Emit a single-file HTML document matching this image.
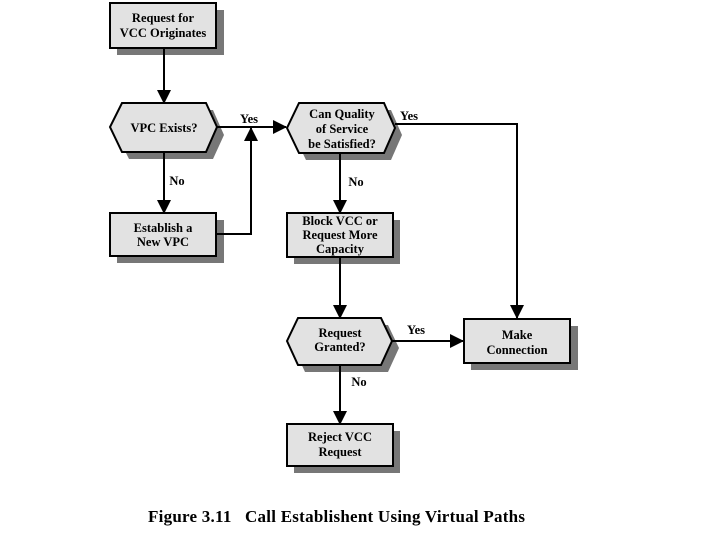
<!DOCTYPE html>
<html><head><style>body{margin:0;background:#fff}</style></head><body>
<svg width="720" height="540" xmlns="http://www.w3.org/2000/svg" font-family="Liberation Serif, serif" font-weight="bold">
<defs><marker id="b" markerWidth="14" markerHeight="14" refX="13" refY="7" orient="auto" markerUnits="userSpaceOnUse"><path d="M0,0 L14,7 L0,14z" fill="#000"/></marker></defs>
<g fill="#777">
<rect x="117" y="10" width="107" height="45"/>
<polygon points="129,110 213,110 224,135 213,159 129,159 117,135"/>
<rect x="117" y="220" width="107" height="43"/>
<polygon points="306,110 391,110 402,135 391,160 306,160 294,135"/>
<rect x="294" y="220" width="106" height="44"/>
<polygon points="305,325 388,325 399,348 388,372 305,372 294,348"/>
<rect x="471" y="326" width="107" height="44"/>
<rect x="294" y="431" width="106" height="42"/>
</g>
<g fill="#e2e2e2" stroke="#000" stroke-width="2">
<rect x="110" y="3" width="106" height="45"/>
<polygon points="122,103 206,103 217,127 206,152 122,152 110,127"/>
<rect x="110" y="213" width="106" height="43"/>
<polygon points="299,103 384,103 395,128 384,153 299,153 287,128"/>
<rect x="287" y="213" width="106" height="44"/>
<polygon points="298,318 381,318 392,341 381,365 298,365 287,341"/>
<rect x="464" y="319" width="106" height="44"/>
<rect x="287" y="424" width="106" height="42"/>
</g>
<g stroke="#000" stroke-width="2" fill="none">
<line x1="164" y1="48" x2="164" y2="103" marker-end="url(#b)"/>
<line x1="217" y1="127" x2="286" y2="127" marker-end="url(#b)"/>
<polyline points="216,234 251,234 251,128" marker-end="url(#b)"/>
<line x1="164" y1="152" x2="164" y2="213" marker-end="url(#b)"/>
<polyline points="395,124 517,124 517,318" marker-end="url(#b)"/>
<line x1="340" y1="153" x2="340" y2="213" marker-end="url(#b)"/>
<line x1="340" y1="257" x2="340" y2="318" marker-end="url(#b)"/>
<line x1="392" y1="341" x2="463" y2="341" marker-end="url(#b)"/>
<line x1="340" y1="365" x2="340" y2="424" marker-end="url(#b)"/>
</g>
<g font-size="12.5" text-anchor="middle" fill="#000">
<text x="163" y="22">Request for</text><text x="163" y="37">VCC Originates</text>
<text x="164" y="132">VPC Exists?</text>
<text x="163" y="232">Establish a</text><text x="163" y="246">New VPC</text>
<text x="342" y="118">Can Quality</text><text x="342" y="133">of Service</text><text x="342" y="148">be Satisfied?</text>
<text x="340" y="225">Block VCC or</text><text x="340" y="239">Request More</text><text x="340" y="253">Capacity</text>
<text x="340" y="337">Request</text><text x="340" y="351">Granted?</text>
<text x="517" y="339">Make</text><text x="517" y="354">Connection</text>
<text x="340" y="441">Reject VCC</text><text x="340" y="456">Request</text>
<text x="249" y="123">Yes</text><text x="409" y="120">Yes</text><text x="416" y="334">Yes</text>
<text x="177" y="185">No</text><text x="356" y="186">No</text><text x="359" y="386">No</text>
</g>
<text x="148" y="522" font-size="17" xml:space="preserve" textLength="377" lengthAdjust="spacing">Figure 3.11   Call Establishent Using Virtual Paths</text>
</svg>
</body></html>
